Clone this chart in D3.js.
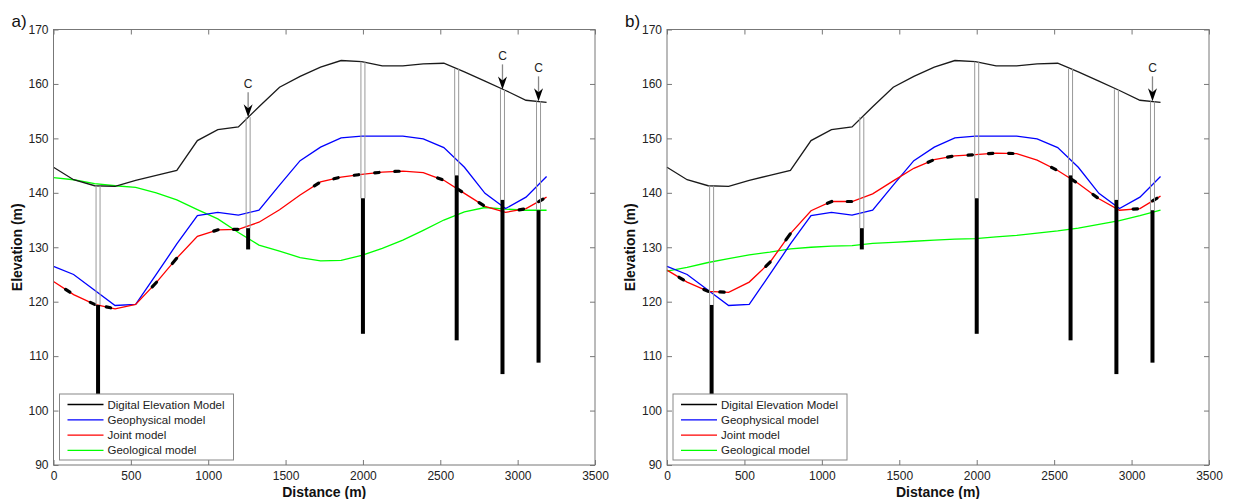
<!DOCTYPE html>
<html>
<head>
<meta charset="utf-8">
<script src="https://cdn.jsdelivr.net/npm/d3@7"></script>
<style>
  body { margin: 0; background: #fff; }
  svg { display: block; font-family: "Liberation Sans", Arial, sans-serif; }
</style>
</head>
<body>
<script>
// Profile distances (m) shared by all model lines
const distance = [0, 130, 266, 398, 531, 664, 797, 930, 1062, 1195, 1328, 1461, 1594,
                  1726, 1859, 1992, 2125, 2258, 2390, 2523, 2656, 2789, 2922, 3054, 3187];

// Digital elevation model (same on both panels)
const demElevation = [144.7, 142.4, 141.3, 141.2, 142.3, 143.2, 144.1, 149.6, 151.6, 152.1, 155.8, 159.4, 161.4,
                      163.1, 164.3, 164.1, 163.3, 163.3, 163.7, 163.8, 162.2, 160.5, 158.8, 157.0, 156.6];

// Geophysical model (same on both panels)
const geophysical = [126.5, 125.0, 122.1, 119.3, 119.5, 125.0, 130.6, 135.8, 136.4, 135.9, 136.8, 141.4, 145.9,
                     148.4, 150.1, 150.4, 150.4, 150.4, 149.9, 148.3, 144.7, 139.9, 137.1, 139.2, 143.0];

// Joint model, panel a and panel b
const jointA = [123.7, 121.3, 119.5, 118.7, 119.5, 123.5, 128.0, 132.0, 133.2, 133.3, 134.6, 136.9, 139.6,
                142.0, 142.9, 143.4, 143.8, 144.0, 143.7, 142.3, 139.9, 137.5, 136.4, 137.1, 139.2];
const jointB = [125.8, 123.6, 121.9, 121.7, 123.6, 127.2, 132.5, 136.7, 138.4, 138.4, 139.8, 142.2, 144.5,
                146.1, 146.8, 147.0, 147.3, 147.2, 146.0, 144.1, 141.7, 138.9, 136.8, 137.1, 139.4];

// Geological model, panel a and panel b
const geologicalA = [142.8, 142.4, 141.7, 141.3, 141.0, 140.0, 138.7, 136.9, 135.2, 132.7, 130.4, 129.3, 128.1,
                     127.5, 127.6, 128.5, 129.8, 131.3, 133.1, 135.0, 136.5, 137.3, 137.0, 136.8, 136.8];
const geologicalB = [125.6, 126.3, 127.2, 127.9, 128.6, 129.1, 129.7, 130.0, 130.2, 130.3, 130.7, 130.9, 131.1,
                     131.3, 131.5, 131.6, 131.9, 132.2, 132.6, 133.0, 133.5, 134.2, 134.9, 135.8, 136.8];

// Boreholes: position, collar, top of rock, bottom
const wellDistance = [288, 1258, 2000, 2606, 2902, 3135];
const wellTop      = [141.3, 153.9, 164.1, 162.8, 159.0, 156.8];
const wellRockTop  = [119.4, 133.5, 139.0, 143.2, 138.7, 136.8];
const wellBottom   = [95.0, 129.6, 114.1, 112.9, 106.7, 108.8];

// Black constraint marks drawn on the joint model
const markDistance = [92, 252, 355, 652, 782, 1050, 1178, 1700, 1826, 1958, 2090, 2220, 2497, 2624, 2765, 3024, 3150];

// Wells marked with a "C" arrow
const arrowWellsA = [1258, 2902, 3135];
const arrowWellsB = [3135];

const xTicks = [0, 500, 1000, 1500, 2000, 2500, 3000, 3500];
const yTicks = [90, 100, 110, 120, 130, 140, 150, 160, 170];

const legendLabels = ["Digital Elevation Model", "Geophysical model", "Joint model", "Geological model"];
const legendColors = ["#000000", "#0000ff", "#ff0000", "#00ff00"];

const width = 1235, height = 499;
const svg = d3.select("body").append("svg")
    .attr("width", width)
    .attr("height", height);

function drawPanel(opts) {
    const x = d3.scaleLinear().domain([0, 3500]).range([opts.left, opts.right]);
    const y = d3.scaleLinear().domain([90, 170]).range([465, 29.5]);
    const g = svg.append("g");

    const line = vals => d3.line()
        .x((d, i) => x(distance[i]))
        .y((d, i) => y(vals[i]))(vals);

    // Model lines
    const series = [
        { vals: opts.geological, color: "#00ff00" },
        { vals: geophysical, color: "#0000ff" },
        { vals: opts.joint, color: "#ff0000" },
        { vals: demElevation, color: "#1a1a1a" }
    ];
    series.forEach(s => {
        g.append("path")
            .attr("d", line(s.vals))
            .attr("fill", "none")
            .attr("stroke", s.color)
            .attr("stroke-width", 1.3);
    });

    // Constraint marks along the joint model
    const jointAt = d3.scaleLinear().domain(distance).range(opts.joint);
    markDistance.forEach(d => {
        g.append("line")
            .attr("x1", x(d - 14)).attr("y1", y(jointAt(d - 14)))
            .attr("x2", x(d + 14)).attr("y2", y(jointAt(d + 14)))
            .attr("stroke", "#000")
            .attr("stroke-width", 3.2)
            .attr("stroke-linecap", "round");
    });

    // Boreholes
    wellDistance.forEach((d, i) => {
        const cx = x(d);
        [-2, 2].forEach(off => {
            g.append("line")
                .attr("x1", cx + off).attr("x2", cx + off)
                .attr("y1", y(wellTop[i])).attr("y2", y(wellRockTop[i]))
                .attr("stroke", "#999")
                .attr("stroke-width", 1);
        });
        g.append("rect")
            .attr("x", cx - 2)
            .attr("y", y(wellRockTop[i]))
            .attr("width", 4)
            .attr("height", y(wellBottom[i]) - y(wellRockTop[i]))
            .attr("fill", "#000");
    });

    // "C" arrows
    opts.arrows.forEach(d => {
        const i = wellDistance.indexOf(d);
        const cx = x(d), tip = y(wellTop[i]);
        g.append("line")
            .attr("x1", cx).attr("x2", cx)
            .attr("y1", tip - 25).attr("y2", tip - 6)
            .attr("stroke", "#888")
            .attr("stroke-width", 1.3);
        g.append("path")
            .attr("d", `M${cx},${tip} L${cx - 4.5},${tip - 13} L${cx},${tip - 9} L${cx + 4.5},${tip - 13} Z`)
            .attr("fill", "#000");
        g.append("text")
            .attr("x", cx).attr("y", tip - 29)
            .attr("text-anchor", "middle")
            .style("font-size", "12px")
            .attr("fill", "#222")
            .text("C");
    });

    // Axes box with inward ticks on all sides
    g.append("rect")
        .attr("x", opts.left).attr("y", 29.5)
        .attr("width", opts.right - opts.left).attr("height", 465 - 29.5)
        .attr("fill", "none")
        .attr("stroke", "#777")
        .attr("stroke-width", 1);

    const axisStyle = sel => {
        sel.select(".domain").remove();
        sel.selectAll(".tick line").attr("stroke", "#777");
        sel.selectAll(".tick text")
            .attr("fill", "#222")
            .style("font-size", "12px")
            .style("font-family", "Liberation Sans, Arial, sans-serif");
    };

    g.append("g")
        .attr("transform", "translate(0,465)")
        .call(d3.axisBottom(x).tickValues(xTicks).tickFormat(d3.format("d")).tickSizeInner(-5).tickPadding(6))
        .call(axisStyle);
    g.append("g")
        .attr("transform", "translate(0,29.5)")
        .call(d3.axisTop(x).tickValues(xTicks).tickFormat("").tickSizeInner(-5))
        .call(axisStyle);
    g.append("g")
        .attr("transform", `translate(${opts.left},0)`)
        .call(d3.axisLeft(y).tickValues(yTicks).tickFormat(d3.format("d")).tickSizeInner(-5).tickPadding(5))
        .call(axisStyle);
    g.append("g")
        .attr("transform", `translate(${opts.right},0)`)
        .call(d3.axisRight(y).tickValues(yTicks).tickFormat("").tickSizeInner(-5))
        .call(axisStyle);

    // Axis labels
    g.append("text")
        .attr("x", (opts.left + opts.right) / 2)
        .attr("y", 497)
        .attr("text-anchor", "middle")
        .style("font-size", "14px")
        .style("font-weight", "bold")
        .attr("fill", "#111")
        .text("Distance (m)");
    g.append("text")
        .attr("transform", `translate(${opts.left - 32},${(29.5 + 465) / 2}) rotate(-90)`)
        .attr("text-anchor", "middle")
        .style("font-size", "14px")
        .style("font-weight", "bold")
        .attr("fill", "#111")
        .text("Elevation (m)");

    // Panel letter
    g.append("text")
        .attr("x", opts.left - 42)
        .attr("y", 27)
        .style("font-size", "17px")
        .attr("fill", "#111")
        .text(opts.letter);

    // Legend
    const lx = opts.left + 6, ly = 394;
    const legend = g.append("g");
    legend.append("rect")
        .attr("x", lx).attr("y", ly)
        .attr("width", 174).attr("height", 66)
        .attr("fill", "#fff")
        .attr("stroke", "#888")
        .attr("stroke-width", 1);
    legendLabels.forEach((label, i) => {
        const ry = ly + 10.5 + i * 15.3;
        legend.append("line")
            .attr("x1", lx + 8).attr("x2", lx + 44)
            .attr("y1", ry).attr("y2", ry)
            .attr("stroke", legendColors[i])
            .attr("stroke-width", 1.3);
        legend.append("text")
            .attr("x", lx + 48).attr("y", ry + 4)
            .style("font-size", "11.5px")
            .attr("fill", "#222")
            .text(label);
    });
}

drawPanel({ left: 53.5, right: 595, letter: "a)", joint: jointA, geological: geologicalA, arrows: arrowWellsA });
drawPanel({ left: 667, right: 1209, letter: "b)", joint: jointB, geological: geologicalB, arrows: arrowWellsB });
</script>
</body>
</html>
